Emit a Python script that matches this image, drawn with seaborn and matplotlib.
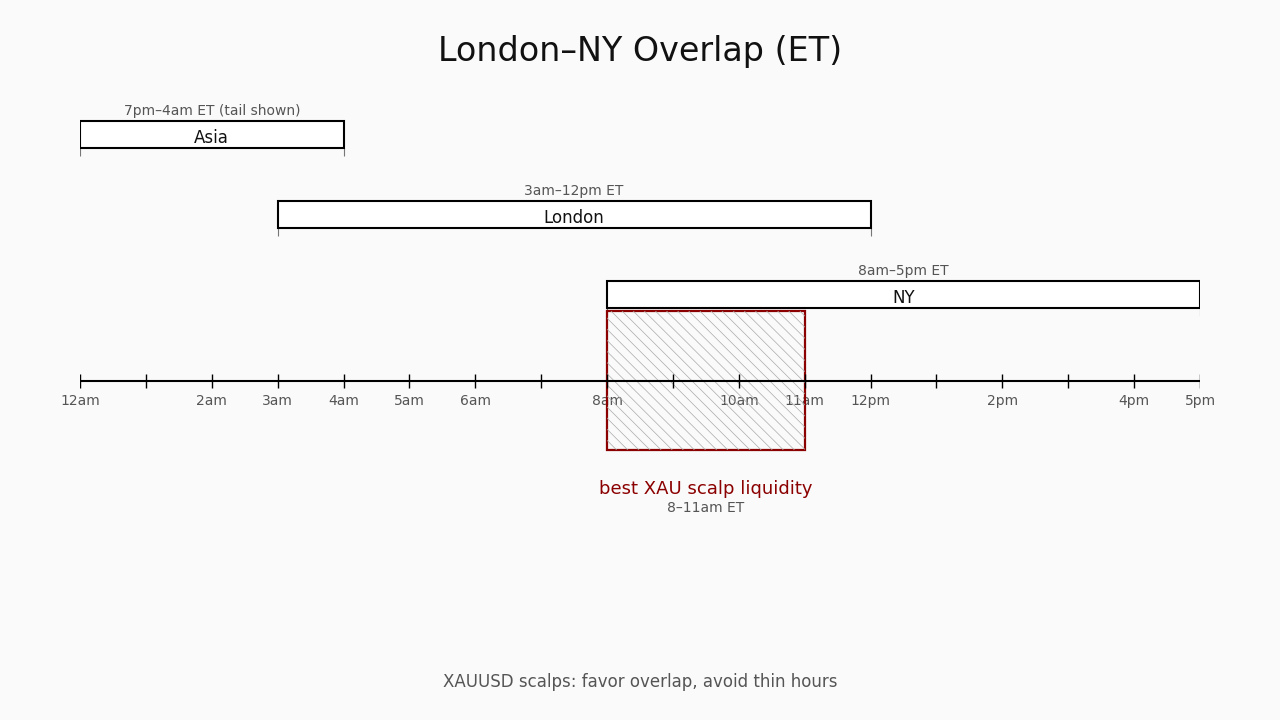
import numpy as np
import pandas as pd
import seaborn as sns
import matplotlib.pyplot as plt
from matplotlib.patches import Rectangle

# session data (hours after midnight ET, tail of Asia clipped at 12am)
sessions = ["Asia", "London", "NY"]
starts = [0, 3, 8]
ends = [4, 12, 17]
range_labels = ["7pm–4am ET (tail shown)", "3am–12pm ET", "8am–5pm ET"]

tick_hours = list(range(0, 18))
label_hours = [0, 2, 3, 4, 5, 6, 8, 10, 11, 12, 14, 16, 17]
label_text = ["12am", "2am", "3am", "4am", "5am", "6am", "8am", "10am", "11am",
              "12pm", "2pm", "4pm", "5pm"]

overlap_start, overlap_end = 8, 11
overlap_title = "best XAU scalp liquidity"
overlap_sub = "8–11am ET"

df = pd.DataFrame({"session": sessions, "start": starts, "end": ends, "label": range_labels})

sns.set_theme(style="white")
plt.rcParams['font.family'] = 'sans-serif'
plt.rcParams['font.sans-serif'] = ['DejaVu Sans']
plt.rcParams['hatch.linewidth'] = 0.5
bg = "#fafafa"
grey = "#555555"
red = "#8b0000"
ff = "DejaVu Sans"

fig = plt.figure(figsize=(12.8, 7.2), dpi=100, facecolor=bg)
# axes spans the full height, y in pixel rows from the top
ax = fig.add_axes([80 / 1280, 0, 1120 / 1280, 1])
ax.set_facecolor(bg)
ax.set_xlim(0, 17)
ax.set_ylim(720, 0)
ax.axis("off")

row_y = [134.5, 214.5, 294.5]
bar_h = 27
ax.barh(row_y, df["end"] - df["start"], left=df["start"], height=bar_h,
        color="white", edgecolor="black", linewidth=1.5, zorder=3)
for yc, r in zip(row_y, df.itertuples()):
    ax.text((r.start + r.end) / 2, yc - 24, r.label, ha="center", va="center",
            fontsize=10, color=grey, family=ff)
    ax.text((r.start + r.end) / 2, yc + 3.5, r.session, ha="center", va="center",
            fontsize=12, color="#111111", zorder=4, family=ff)
    ax.vlines([r.start, r.end], yc + bar_h / 2, yc + bar_h / 2 + 8,
              color="#777777", linewidth=0.8, zorder=2)

# time axis
axis_y = 381
ax.hlines(axis_y, 0, 17, color="black", linewidth=1.5, zorder=4)
ax.vlines(tick_hours, axis_y - 7, axis_y + 7, color="black", linewidth=1, zorder=4)
for h, t in zip(label_hours, label_text):
    ax.text(h, 401, t, ha="center", va="center", fontsize=10, color=grey,
            zorder=1, family=ff)

# overlap window
ax.add_patch(Rectangle((overlap_start, 311), overlap_end - overlap_start, 139,
                       facecolor="none", edgecolor=red, linewidth=1.6, zorder=2))
ax.add_patch(Rectangle((overlap_start, 311), overlap_end - overlap_start, 139,
                       facecolor="none", edgecolor="#aaaaaa", hatch="\\\\\\",
                       linewidth=0, zorder=3))
mid = (overlap_start + overlap_end) / 2
ax.text(mid, 489, overlap_title, ha="center", va="center", fontsize=13, color=red, family=ff)
ax.text(mid, 508, overlap_sub, ha="center", va="center", fontsize=10, color=grey, family=ff)

fig.text(0.5, 1 - 52 / 720, "London–NY Overlap (ET)", ha="center", va="center",
         fontsize=24, color="#111111", family=ff)
fig.text(0.5, 1 - 682 / 720, "XAUUSD scalps: favor overlap, avoid thin hours",
         ha="center", va="center", fontsize=12, color=grey, family=ff)

fig.savefig("out.png", dpi=100, facecolor=bg)
